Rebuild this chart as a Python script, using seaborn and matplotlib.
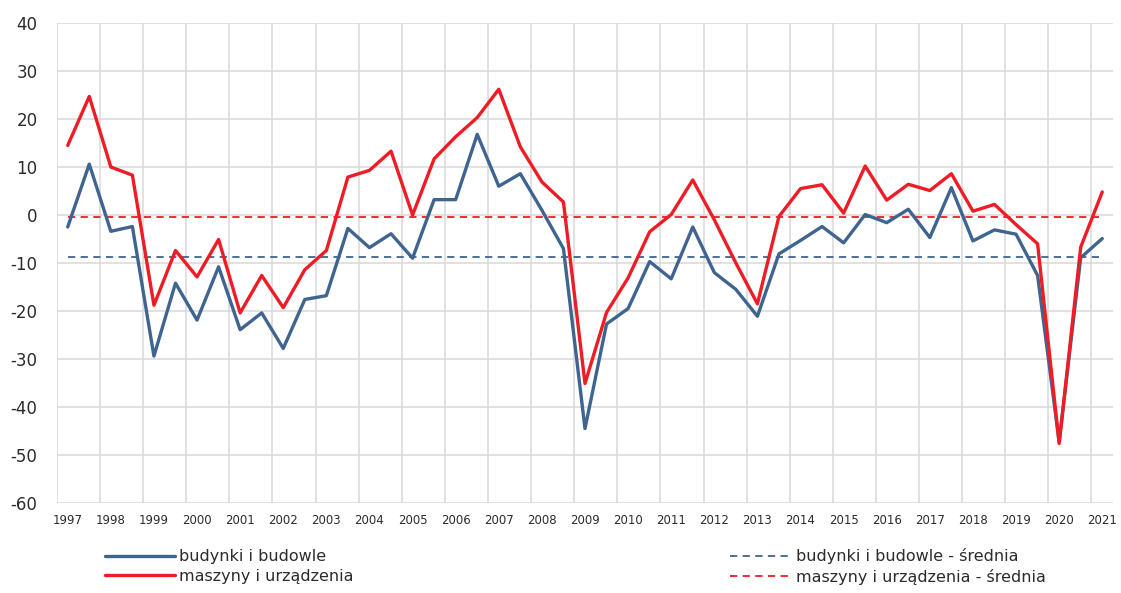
import numpy as np
import pandas as pd
import matplotlib
matplotlib.use("Agg")
import matplotlib.pyplot as plt
import seaborn as sns

# ---------------- data ----------------
years = [str(y) for y in range(1997, 2022)]          # tick labels (one per year)
half_years = np.arange(49)                           # semi-annual observations 1997 H1 .. 2021 H1

budynki = [-2.5, 10.6, -3.4, -2.4, -29.4, -14.2, -21.9, -10.8, -23.9, -20.4,
           -27.8, -17.6, -16.8, -2.8, -6.8, -3.9, -9.0, 3.2, 3.2, 16.8,
           6.0, 8.6, 1.0, -7.0, -44.5, -22.7, -19.5, -9.7, -13.3, -2.5,
           -12.0, -15.5, -21.1, -8.1, -5.3, -2.4, -5.8, 0.1, -1.6, 1.2,
           -4.7, 5.7, -5.4, -3.1, -4.0, -12.6, -47.3, -8.9, -4.9]

maszyny = [14.5, 24.7, 10.0, 8.3, -18.8, -7.4, -12.9, -5.1, -20.4, -12.6,
           -19.3, -11.4, -7.4, 7.9, 9.3, 13.3, 0.0, 11.7, 16.3, 20.3,
           26.2, 14.2, 6.9, 2.7, -35.1, -20.3, -13.1, -3.5, 0.1, 7.3,
           -1.0, -10.0, -18.5, -0.3, 5.5, 6.3, 0.4, 10.2, 3.1, 6.4,
           5.1, 8.6, 0.8, 2.2, -2.0, -6.0, -47.6, -6.7, 4.8]

srednia_budynki = -8.8
srednia_maszyny = -0.5

labels = ["budynki i budowle", "maszyny i urządzenia",
          "budynki i budowle - średnia", "maszyny i urządzenia - średnia"]

# ---------------- style ----------------
sns.set_theme(style="white")
plt.rcParams["font.family"] = ["DejaVu Sans"]
plt.rcParams["axes.unicode_minus"] = False

BLUE = "#3F6490"
RED = "#EE1C25"
GRID = "#D9D9D9"
TXT = "#2B2B2B"

df = pd.DataFrame({"okres": half_years,
                   "bud": budynki,
                   "masz": maszyny,
                   "bud_sr": np.full(len(half_years), srednia_budynki),
                   "masz_sr": np.full(len(half_years), srednia_maszyny)})

fig = plt.figure(figsize=(11.21, 5.93), dpi=100)
ax = fig.add_axes([0.0508, 0.1518, 0.9421, 0.8094])

dash = (0, (4, 3))
l_bsr = sns.lineplot(data=df, x="okres", y="bud_sr", color=BLUE, lw=1.3,
                     linestyle=dash, ax=ax, legend=False).lines[-1]
l_msr = sns.lineplot(data=df, x="okres", y="masz_sr", color=RED, lw=1.3,
                     linestyle=dash, ax=ax, legend=False).lines[-1]
l_b = sns.lineplot(data=df, x="okres", y="bud", color=BLUE, lw=2.4,
                   ax=ax, legend=False).lines[-1]
l_m = sns.lineplot(data=df, x="okres", y="masz", color=RED, lw=2.4,
                   ax=ax, legend=False).lines[-1]

# axes
ax.set_xlim(-0.5, len(half_years) - 0.5)
ax.set_ylim(-60, 40)
ax.set_yticks(np.arange(-60, 41, 10))
ax.set_xticks(half_years[::2])
ax.set_xticklabels(years)
ax.set_xticks(np.arange(-0.5, len(half_years) - 1, 2), minor=True)
ax.set_xlabel("")
ax.set_ylabel("")

for s in ax.spines.values():
    s.set_visible(False)
ax.grid(False)
ax.grid(True, axis="y", which="major", color=GRID, lw=1.1)
ax.grid(True, axis="x", which="minor", color=GRID, lw=1.1)
ax.set_axisbelow(True)

ax.tick_params(axis="y", which="major", length=0, pad=14, labelsize=12, labelcolor=TXT)
ax.tick_params(axis="x", which="major", length=0, pad=8, labelsize=8.5, labelcolor=TXT)
ax.tick_params(axis="x", which="minor", length=0)

# legends
leg_kw = dict(frameon=False, loc="center left", borderpad=0, borderaxespad=0,
              handletextpad=0.25, labelspacing=0.3, fontsize=11.5, labelcolor=TXT)
leg1 = fig.legend([l_b, l_m], labels[:2], bbox_to_anchor=(0.0937, 0.0447),
                  handlelength=4.4, **leg_kw)
leg2 = fig.legend([l_bsr, l_msr], labels[2:], bbox_to_anchor=(0.651, 0.0447),
                  handlelength=3.9, **leg_kw)

fig.savefig("out.png", dpi=100, facecolor="white")
